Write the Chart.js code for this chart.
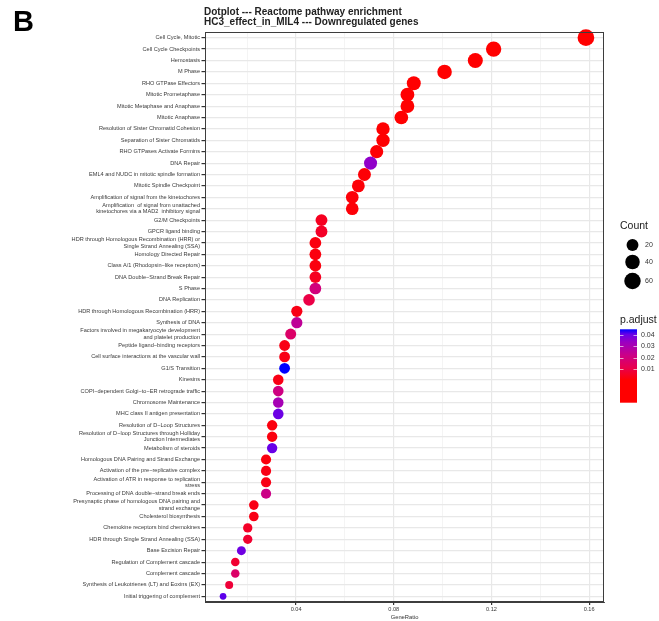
<!DOCTYPE html>
<html>
<head>
<meta charset="utf-8">
<script src="https://cdn.jsdelivr.net/npm/chart.js@4.4.1/dist/chart.umd.min.js"></script>
<style>
  html, body { margin: 0; padding: 0; background: #fff; }
  #wrap { width: 659px; height: 621px; position: relative; }
</style>
</head>
<body>
<div id="wrap"><canvas id="dotplot"></canvas></div>
<script>
// Reactome pathways, top to bottom
const pathways = [
  "Cell Cycle, Mitotic",
  "Cell Cycle Checkpoints",
  "Hemostasis",
  "M Phase",
  "RHO GTPase Effectors",
  "Mitotic Prometaphase",
  "Mitotic Metaphase and Anaphase",
  "Mitotic Anaphase",
  "Resolution of Sister Chromatid Cohesion",
  "Separation of Sister Chromatids",
  "RHO GTPases Activate Formins",
  "DNA Repair",
  "EML4 and NUDC in mitotic spindle formation",
  "Mitotic Spindle Checkpoint",
  "Amplification of signal from the kinetochores",
  ["Amplification  of signal from unattached", "kinetochores via a MAD2  inhibitory signal"],
  "G2/M Checkpoints",
  "GPCR ligand binding",
  ["HDR through Homologous Recombination (HRR) or", "Single Strand Annealing (SSA)"],
  "Homology Directed Repair",
  "Class A/1 (Rhodopsin\u2212like receptors)",
  "DNA Double\u2212Strand Break Repair",
  "S Phase",
  "DNA Replication",
  "HDR through Homologous Recombination (HRR)",
  "Synthesis of DNA",
  ["Factors involved in megakaryocyte development", "and platelet production"],
  "Peptide ligand\u2212binding receptors",
  "Cell surface interactions at the vascular wall",
  "G1/S Transition",
  "Kinesins",
  "COPI\u2212dependent Golgi\u2212to\u2212ER retrograde traffic",
  "Chromosome Maintenance",
  "MHC class II antigen presentation",
  "Resolution of D\u2212Loop Structures",
  ["Resolution of D\u2212loop Structures through Holliday", "Junction Intermediates"],
  "Metabolism of steroids",
  "Homologous DNA Pairing and Strand Exchange",
  "Activation of the pre\u2212replicative complex",
  ["Activation of ATR in response to replication", "stress"],
  "Processing of DNA double\u2212strand break ends",
  ["Presynaptic phase of homologous DNA pairing and", "strand exchange"],
  "Cholesterol biosynthesis",
  "Chemokine receptors bind chemokines",
  "HDR through Single Strand Annealing (SSA)",
  "Base Excision Repair",
  "Regulation of Complement cascade",
  "Complement cascade",
  "Synthesis of Leukotrienes (LT) and Eoxins (EX)",
  "Initial triggering of complement"
];

const geneRatio = [
  0.1587, 0.1209, 0.1134, 0.1008, 0.0882, 0.0856, 0.0856, 0.0831, 0.0756, 0.0756,
  0.0730, 0.0705, 0.0680, 0.0655, 0.0630, 0.0630, 0.0504, 0.0504, 0.0479, 0.0479,
  0.0479, 0.0479, 0.0479, 0.0453, 0.0403, 0.0403, 0.0378, 0.0353, 0.0353, 0.0353,
  0.0327, 0.0327, 0.0327, 0.0327, 0.0302, 0.0302, 0.0302, 0.0277, 0.0277, 0.0277,
  0.0277, 0.0227, 0.0227, 0.0202, 0.0202, 0.0176, 0.0151, 0.0151, 0.0126, 0.0101
];

const geneCount = [
  63, 48, 45, 40, 35, 34, 34, 33, 30, 30,
  29, 28, 27, 26, 25, 25, 20, 20, 19, 19,
  19, 19, 19, 18, 16, 16, 15, 14, 14, 14,
  13, 13, 13, 13, 12, 12, 12, 11, 11, 11,
  11, 9, 9, 8, 8, 7, 6, 6, 5, 4
];

const pAdjust = [
  0.0000, 0.0000, 0.0002, 0.0000, 0.0001, 0.0001, 0.0001, 0.0002, 0.0003, 0.0003,
  0.0005, 0.0350, 0.0008, 0.0010, 0.0012, 0.0012, 0.0045, 0.0055, 0.0020, 0.0020,
  0.0020, 0.0045, 0.0200, 0.0100, 0.0030, 0.0250, 0.0160, 0.0030, 0.0030, 0.0450,
  0.0030, 0.0210, 0.0310, 0.0400, 0.0020, 0.0020, 0.0405, 0.0020, 0.0030, 0.0030,
  0.0220, 0.0030, 0.0030, 0.0055, 0.0070, 0.0395, 0.0070, 0.0160, 0.0080, 0.0410
];

const xTicks = [0.02, 0.04, 0.06, 0.08, 0.10, 0.12, 0.14, 0.16];
const countBreaks = [20, 40, 60];
const pBreaks = [0.04, 0.03, 0.02, 0.01];

const FONT = "'Liberation Sans', Arial, Helvetica, sans-serif";
const P_TOP = 0.045;

// red -> blue through Lab-ish stops (like ggplot's gradient)
const gradStops = [
  [0, [255, 0, 0]], [0.25, [232, 0, 79]], [0.5, [202, 0, 137]],
  [0.75, [154, 0, 194]], [0.9, [104, 0, 231]], [1, [0, 0, 255]]
];
function colorAt(t) {
  t = Math.max(0, Math.min(1, t));
  for (let i = 1; i < gradStops.length; i++) {
    const [t1, c1] = gradStops[i];
    const [t0, c0] = gradStops[i - 1];
    if (t <= t1) {
      const f = (t - t0) / (t1 - t0);
      const c = c0.map((v, k) => Math.round(v + (c1[k] - v) * f));
      return `rgb(${c[0]},${c[1]},${c[2]})`;
    }
  }
  return 'rgb(0,0,255)';
}

const cMin = Math.min(...geneCount), cMax = Math.max(...geneCount);
function dotRadius(c) {
  const f = Math.max(0, (c - cMin) / (cMax - cMin));
  return (6.7 + 10 * Math.sqrt(f)) / 2;
}

const points = pathways.map((_, i) => ({
  x: geneRatio[i], y: i, count: geneCount[i], p: pAdjust[i]
}));

// titles, panel border and the two legends
const extras = {
  id: 'extras',
  afterDraw(chart) {
    const ctx = chart.ctx;
    const a = chart.chartArea;
    ctx.save();
    ctx.strokeStyle = '#3d3d3d';
    ctx.lineWidth = 1;
    ctx.strokeRect(Math.round(a.left) + 0.5, Math.round(a.top) + 0.5,
      Math.round(a.right - a.left) - 1, Math.round(a.bottom - a.top) - 1);

    ctx.fillStyle = '#000';
    ctx.textBaseline = 'middle';
    ctx.textAlign = 'left';
    ctx.font = `bold 29px ${FONT}`;
    ctx.fillText('B', 13, 23);

    ctx.fillStyle = '#222';
    ctx.font = `bold 10px ${FONT}`;
    ctx.fillText('Dotplot --- Reactome pathway enrichment', 204, 12);
    ctx.fillText('HC3_effect_in_MIL4 --- Downregulated genes', 204, 22.5);

    // size legend
    ctx.fillStyle = '#222';
    ctx.font = `10.5px ${FONT}`;
    ctx.fillText('Count', 620, 226);
    const sizeY = [245, 262, 281];
    ctx.font = `7px ${FONT}`;
    countBreaks.forEach((c, i) => {
      ctx.fillStyle = '#000';
      ctx.beginPath();
      ctx.arc(632.5, sizeY[i], dotRadius(c), 0, Math.PI * 2);
      ctx.fill();
      ctx.fillStyle = '#333';
      ctx.fillText(String(c), 645, sizeY[i]);
    });

    // colour legend
    ctx.fillStyle = '#222';
    ctx.font = `10.5px ${FONT}`;
    ctx.fillText('p.adjust', 620, 320);
    const bx = 620, bw = 17, top = 329.3, zeroY = 380.3, bottom = 402.7;
    const pxPer = (zeroY - top) / P_TOP;
    const g = ctx.createLinearGradient(0, zeroY, 0, top);
    for (let k = 0; k <= 40; k++) g.addColorStop(k / 40, colorAt(k / 40));
    ctx.fillStyle = g;
    ctx.fillRect(bx, top, bw, zeroY - top);
    ctx.fillStyle = colorAt(0);
    ctx.fillRect(bx, zeroY - 0.5, bw, bottom - zeroY + 0.5);
    ctx.strokeStyle = 'rgba(255,255,255,0.8)';
    ctx.lineWidth = 0.8;
    ctx.font = `7px ${FONT}`;
    pBreaks.forEach(p => {
      const y = Math.round(zeroY - p * pxPer) + 0.5;
      ctx.beginPath();
      ctx.moveTo(bx, y); ctx.lineTo(bx + 3.5, y);
      ctx.moveTo(bx + bw - 3.5, y); ctx.lineTo(bx + bw, y);
      ctx.stroke();
      ctx.fillStyle = '#333';
      ctx.fillText(p.toFixed(2), 641, y);
    });
    ctx.restore();
  }
};

new Chart(document.getElementById('dotplot'), {
  type: 'bubble',
  data: {
    labels: pathways,
    datasets: [{
      data: points,
      radius: c => dotRadius(c.raw.count),
      backgroundColor: c => colorAt(c.raw.p / P_TOP),
      borderWidth: 0,
      hoverRadius: 0
    }]
  },
  options: {
    responsive: true,
    maintainAspectRatio: false,
    animation: false,
    events: [],
    layout: { padding: { left: 0, top: 32, right: 55, bottom: 0 } },
    plugins: { legend: { display: false }, tooltip: { enabled: false } },
    scales: {
      x: {
        type: 'linear',
        min: 0.0027,
        max: 0.1661,
        afterBuildTicks: s => { s.ticks = xTicks.map(v => ({ value: v })); },
        afterFit: s => { s.height = 19; },
        ticks: {
          font: { family: FONT, size: 5.6 },
          color: '#3a3a3a',
          padding: 1,
          callback: v => (Math.round(v * 100) % 4 === 0 ? v.toFixed(2) : '')
        },
        grid: {
          color: c => (Math.round(c.tick.value * 100) % 4 === 0 ? '#e8e8e8' : '#f1f1f1'),
          lineWidth: c => (Math.round(c.tick.value * 100) % 4 === 0 ? 1.2 : 0.8),
          tickLength: 3,
          tickColor: c => (Math.round(c.tick.value * 100) % 4 === 0 ? '#333' : 'rgba(0,0,0,0)')
        },
        border: { color: '#3d3d3d' },
        title: {
          display: true,
          text: 'GeneRatio',
          font: { family: FONT, size: 5.8 },
          color: '#333',
          padding: { top: 1, bottom: 0 }
        }
      },
      y: {
        type: 'category',
        offset: true,
        afterFit: s => { s.width = 205; },
        ticks: {
          autoSkip: false,
          font: { family: FONT, size: 5.6, lineHeight: 1.15 },
          color: '#3a3a3a',
          padding: 1.5
        },
        grid: {
          offset: false,
          color: '#e8e8e8',
          lineWidth: 1.2,
          tickLength: 3.5,
          tickColor: '#333'
        },
        border: { color: '#3d3d3d' }
      }
    }
  },
  plugins: [extras]
});
</script>
</body>
</html>
